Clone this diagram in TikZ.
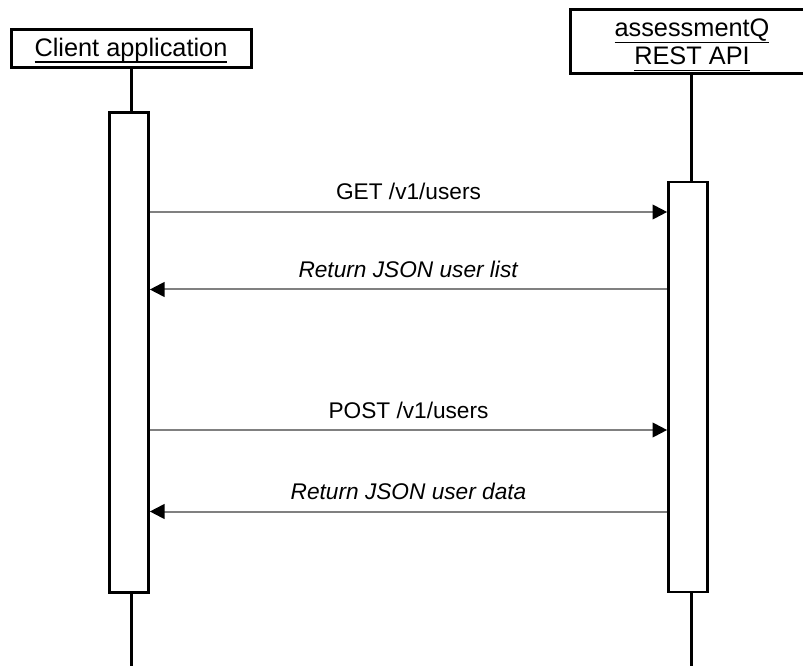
\documentclass[tikz,border=0pt]{standalone}
\usepackage{fontspec}
\setmainfont{Liberation Sans}
\usetikzlibrary{arrows.meta,calc,positioning}
\tikzset{every picture/.style={
  >={Triangle[length=11pt,width=11pt,color=black]}  % Solid black heads.
  }
}
% Underlined participant name, rule at a fixed depth.
\newcommand{\hdrtext}[1]{%
  \setbox0=\hbox{#1}\rlap{\rule[-5pt]{\wd0}{1.2pt}}\box0}

\begin{document}
\begin{tikzpicture}[
    x=0.75pt, y=-0.75pt,
    actor/.style={
      rectangle,
      draw,
      line width=2.25pt,
      fill=white,
      inner sep=0pt,
      align=center,
      font=\fontsize{19}{21}\selectfont
    },
    activation/.style={
      rectangle,
      draw,
      line width=2pt,
      fill=white,
      minimum width=29.25pt,
      inner sep=0pt
    },
    lifeline/.style={line width=2pt},
    msg/.style={->,line width=1.5pt,draw=black!50},
    msglabel/.style={
      font=\fontsize{17}{20}\selectfont,
      text=black,
      anchor=base,
      yshift=9pt
    }]
    \useasboundingbox (0,0) rectangle (803,666);

    % The two participants.
    \node[actor,minimum width=180pt,minimum height=29pt] (client) at (131,48.5)
      {\rule{0pt}{16.5pt}\hdrtext{Client application}};
    \node[actor,minimum width=183pt,minimum height=48pt] (api) at (692,42)
      {\rule{0pt}{18pt}\hdrtext{assessmentQ}\\\hdrtext{REST API}};

    % Lifelines run to the bottom edge.
    \coordinate (clientend) at (131.5,666);
    \coordinate (apiend) at (691.5,666);
    \draw[lifeline] (client.south -| clientend) -- (clientend);
    \draw[lifeline] (api.south -| apiend) -- (apiend);

    % Activation bars.
    \node[activation,minimum height=360pt] (clientbar) at (129,352.5) {};
    \node[activation,minimum height=307.5pt] (apibar) at (688,387) {};

    % Message levels.
    \coordinate (get)     at (0,212);
    \coordinate (getret)  at (0,289.5);
    \coordinate (post)    at (0,430);
    \coordinate (postret) at (0,511.5);

    % Requests and replies.
    \draw[msg] (clientbar.east |- get) --
      node[msglabel] {GET /v1/users} (apibar.west |- get);
    \draw[msg] (apibar.west |- getret) --
      node[msglabel] {\textit{Return JSON user list}} (clientbar.east |- getret);
    \draw[msg] (clientbar.east |- post) --
      node[msglabel] {POST /v1/users} (apibar.west |- post);
    \draw[msg] (apibar.west |- postret) --
      node[msglabel] {\textit{Return JSON user data}} (clientbar.east |- postret);
  \end{tikzpicture}
\end{document}
